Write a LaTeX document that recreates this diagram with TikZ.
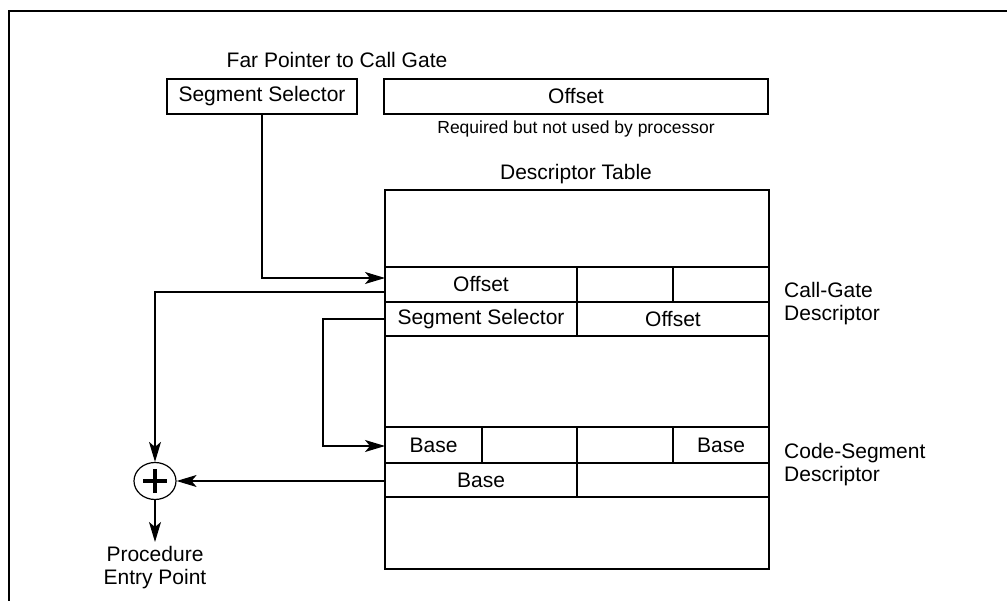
\documentclass[tikz,border=0pt]{standalone}
\usepackage{fontspec}
\setmainfont{Liberation Sans}
\usetikzlibrary{arrows.meta,shapes.geometric}
\begin{document}
\begin{tikzpicture}[x=1pt,y=-1pt,
  font=\fontsize{21}{23}\selectfont,
  cell/.style={draw,line width=1.2pt,inner sep=0pt,anchor=center},
  topbox/.style={draw,line width=1.8pt,inner sep=0pt,minimum height=35pt},
  conn/.style={line width=1.2pt,-{Stealth[length=20pt,width=12pt,inset=5pt]}},
  lbl/.style={inner sep=0pt,align=left,anchor=west}]
\useasboundingbox (0,0) rectangle (1007,601);
% frame (left and top only)
\draw[line width=2pt] (9,601) -- (9,11) -- (1007,11);

% far pointer
\node[inner sep=0pt] (fptitle) at (337,60) {Far Pointer to Call Gate};
\node[topbox,minimum width=190pt] (ss) at (262,96.5) {Segment Selector};
\node[topbox,minimum width=384pt] (off) at (576,96.5) {Offset};
\node[inner sep=0pt,font=\fontsize{17.5}{20}\selectfont] (req) at (576,129) {Required but not used by processor};
\node[inner sep=0pt] (dttitle) at (576,174) {Descriptor Table};

% cells
\node[cell,minimum width=192pt,minimum height=35pt] (c1a) at (481,284.5) {Offset};
\node[cell,minimum width=96pt,minimum height=35pt] (c1b) at (625,284.5) {};
\node[cell,minimum width=96pt,minimum height=35pt] (c1c) at (721,284.5) {};
\node[cell,minimum width=192pt,minimum height=34pt] (c2a) at (481,319) {Segment Selector};
\node[cell,minimum width=192pt,minimum height=34pt] (c2b) at (673,319) {Offset};
\node[cell,minimum width=97pt,minimum height=36pt] (c3a) at (433.5,445) {Base};
\node[cell,minimum width=95pt,minimum height=36pt] (c3b) at (529.5,445) {};
\node[cell,minimum width=96pt,minimum height=36pt] (c3c) at (625,445) {};
\node[cell,minimum width=96pt,minimum height=36pt] (c3d) at (721,445) {Base};
\node[cell,minimum width=192pt,minimum height=34pt] (c4a) at (481,480) {Base};
\node[cell,minimum width=192pt,minimum height=34pt] (c4b) at (673,480) {};
% table outline
\node[draw,line width=2pt,inner sep=0pt,minimum width=384pt,minimum height=379pt] (tbl) at (577,379.5) {};

% labels right
\node[lbl] (cgd) at (784,303.5) {Call-Gate\\Descriptor};
\node[lbl] (csd) at (784,464.5) {Code-Segment\\Descriptor};

% adder
\node[draw,ellipse,line width=1.2pt,minimum width=42pt,minimum height=37pt,inner sep=0pt] (plus) at (155,481) {};
\draw[line width=4pt] ([xshift=-12pt]plus.center) -- ([xshift=12pt]plus.center);
\draw[line width=4pt] ([yshift=-12pt]plus.center) -- ([yshift=12pt]plus.center);

\node[inner sep=0pt,align=center] (pep) at (155,568) {Procedure\\Entry Point};

% coordinates on table edge
\coordinate (in1) at (385,278);
\coordinate (out1) at (385,292);
\coordinate (out2) at (385,319);
\coordinate (bend2) at (323,319);
\coordinate (in2) at (385,446);
\coordinate (out3) at (385,481);
\coordinate (pepin) at (155,542);

% connectors
\draw[conn] (ss.south) |- (in1);
\draw[conn] (out1) -| (plus.north);
\draw[conn] (out2) -- (bend2) |- (in2);
\draw[conn] (out3) -- (plus.east);
\draw[conn] (plus.south) -- (pepin);
\end{tikzpicture}
\end{document}
